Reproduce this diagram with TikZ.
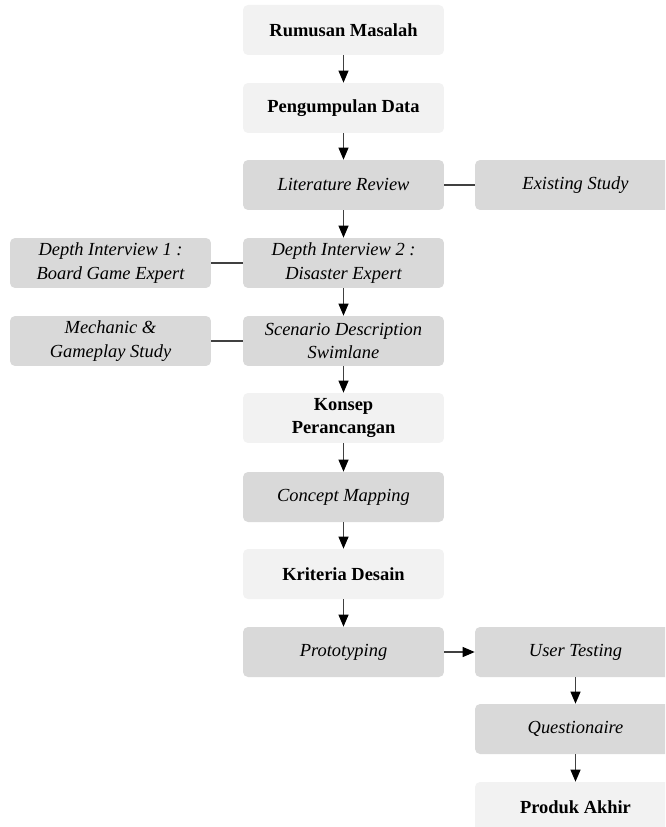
\documentclass[tikz,border=0pt]{standalone}
\usepackage{fontspec}
\setmainfont{Liberation Serif}
\usetikzlibrary{arrows.meta}
\definecolor{boxlight}{HTML}{F2F2F2}
\definecolor{boxdark}{HTML}{D9D9D9}
\definecolor{linegray}{HTML}{404040}
\begin{document}
\begin{tikzpicture}[x=0.02cm,y=-0.02cm,
  box/.style={rounded corners=0.1cm,minimum width=4.02cm,minimum height=1cm,align=center,inner sep=0pt},
  phase/.style={box,fill=boxlight,font=\fontsize{10.5}{13.6}\selectfont\bfseries},
  method/.style={box,fill=boxdark,font=\fontsize{10.5}{13.6}\selectfont\itshape},
  flow/.style={draw=linegray,line width=0.6pt,-{Triangle[length=0.24cm,width=0.2cm,color=black]}},
  link/.style={draw=linegray,line width=0.6pt}]
\useasboundingbox (0,0) rectangle (665,827);
\clip (0,0) rectangle (665,827);
% main column
\node[phase] (rumusan) at (343.5,30) {Rumusan Masalah};
\node[phase] (data) at (343.5,108) {Pengumpulan Data};
\node[method] (review) at (343.5,185) {Literature Review};
\node[method] (interview2) at (343.5,263) {Depth Interview 2 :\\Disaster Expert};
\node[method] (scenario) at (343.5,341) {Scenario Description\\Swimlane};
\node[phase] (konsep) at (343.5,418) {Konsep\\Perancangan};
\node[method] (mapping) at (343.5,497) {Concept Mapping};
\node[phase] (kriteria) at (343.5,574) {Kriteria Desain};
\node[method] (proto) at (343.5,652) {Prototyping};
% side boxes
\node[method] (existing) at (575.5,185) {Existing Study};
\node[method] (interview1) at (110.5,263) {Depth Interview 1 :\\Board Game Expert};
\node[method] (mechanic) at (110.5,341) {Mechanic \&\\Gameplay Study};
\node[method] (testing) at (575.5,652) {User Testing};
\node[method] (quest) at (575.5,729) {Questionaire};
\node[phase] (produk) at (575.5,807) {Produk Akhir};
% connectors
\foreach \a/\b in {rumusan/data,data/review,review/interview2,interview2/scenario,scenario/konsep,konsep/mapping,mapping/kriteria,kriteria/proto,testing/quest,quest/produk}
  \draw[flow] (\a) -- (\b);
\draw[flow] (proto) -- (testing);
\draw[link] (review) -- (existing);
\draw[link] (interview1) -- (interview2);
\draw[link] (mechanic) -- (scenario);
\end{tikzpicture}
\end{document}
